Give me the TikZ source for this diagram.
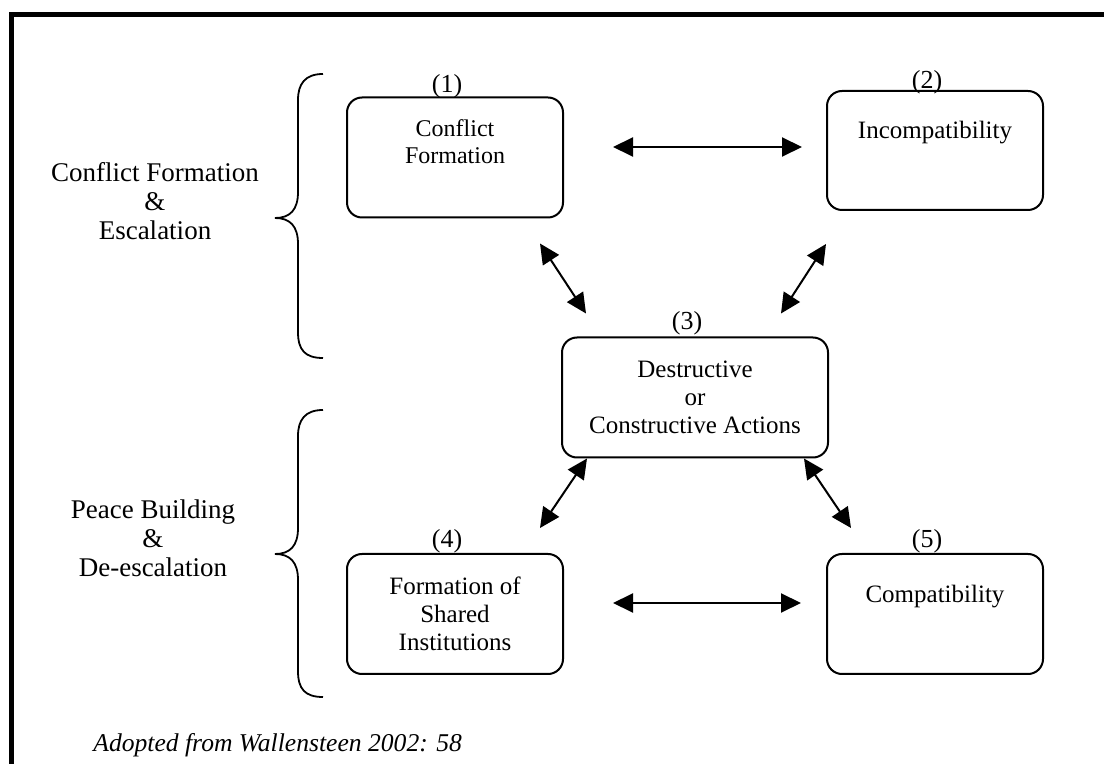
\documentclass[tikz,border=0pt]{standalone}
\usepackage{fontspec}
\setmainfont{Liberation Serif}[ItalicFont={Liberation Serif Italic}]
\usepackage{tikz}
\usetikzlibrary{positioning, arrows.meta}

\begin{document}
\begin{tikzpicture}
[x=0.5pt, y=-0.5pt,
 box/.style={rectangle, draw, line width=1pt, rounded corners=7.5pt, minimum width=108pt, minimum height=60pt, inner sep=0pt},
 wide/.style={box, minimum width=133pt},
 txt/.style={align=center, font=\fontsize{12.5}{14}\selectfont},
 num/.style={inner sep=0pt, font=\fontsize{13}{14}\selectfont},
 side/.style={align=center, font=\fontsize{13.5}{14.5}\selectfont},
 <->/.style={line width=1pt, arrows={Triangle[length=10pt,width=9.5pt]-Triangle[length=10pt,width=9.5pt]}},
 brace/.style={line width=0.9pt}]
\useasboundingbox (0,0) rectangle (1104,764);
\clip (0,0) rectangle (1104,764);
% frame, cut off at the right and at the bottom
\draw[line width=2.5pt] (11,820) -- (11,15) -- (1160,15);
% the five boxes
\node[box] (b1) at (455,157.5) {};
\node[txt, font=\fontsize{12}{13.5}\selectfont] (t1) at (455,142) {Conflict\\Formation};
\node[num] (n1) at (447,86) {(1)};
\node[box, minimum height=59.5pt] (b2) at (935,150.5) {};
\node[txt] (t2) at (935,133) {Incompatibility};
\node[num] (n2) at (927,82) {(2)};
\node[wide] (b3) at (695,397.5) {};
\node[txt] (t3) at (695,397) {Destructive\\or\\Constructive Actions};
\node[num] (n3) at (687,323) {(3)};
\node[box] (b4) at (455,614) {};
\node[txt] (t4) at (455,614) {Formation of\\Shared\\Institutions};
\node[num] (n4) at (447,541) {(4)};
\node[box] (b5) at (935,614) {};
\node[txt] (t5) at (935,597) {Compatibility};
\node[num] (n5) at (927,541) {(5)};
% arrows between the boxes
\draw[<->] ([shift={(49,-10.5)}]b1.east) -- ([shift={(-24,-3.5)}]b2.west);
\draw[<->] ([shift={(49,-11)}]b4.east) -- ([shift={(-25,-11)}]b5.west);
\draw[<->] ([shift={(-24,25)}]b1.south east) -- ([shift={(25,-23)}]b3.north west);
\draw[<->] ([shift={(0,33)}]b2.south west) -- ([shift={(-48,-23)}]b3.north east);
\draw[<->] ([shift={(26,0)}]b3.south west) -- ([shift={(-24,-25)}]b4.north east);
\draw[<->] ([shift={(-25,0)}]b3.south east) -- ([shift={(25,-25)}]b5.north west);
% braces on the left
\draw[brace] (323,74) .. controls (305,74) and (298,84) .. (298,100) -- (298,192)
  .. controls (298,210) and (290,218) .. (275,218) .. controls (290,218) and (298,226) .. (298,244)
  -- (298,332) .. controls (298,350) and (305,358) .. (323,358);
\draw[brace] (323,410) .. controls (305,410) and (298,420) .. (298,436) -- (298,528)
  .. controls (298,546) and (290,554) .. (275,554) .. controls (290,554) and (298,562) .. (298,580)
  -- (298,671) .. controls (298,689) and (305,697) .. (323,697);
\node[side] (s1) at (155,201) {Conflict Formation\\\&\\Escalation};
\node[side] (s2) at (153,538) {Peace Building\\\&\\De-escalation};
% source
\node[side, anchor=west, inner sep=0pt, font=\fontsize{12.8}{14}\selectfont\itshape] (src) at (93,745) {Adopted from Wallensteen 2002: 58};
\end{tikzpicture}
\end{document}
